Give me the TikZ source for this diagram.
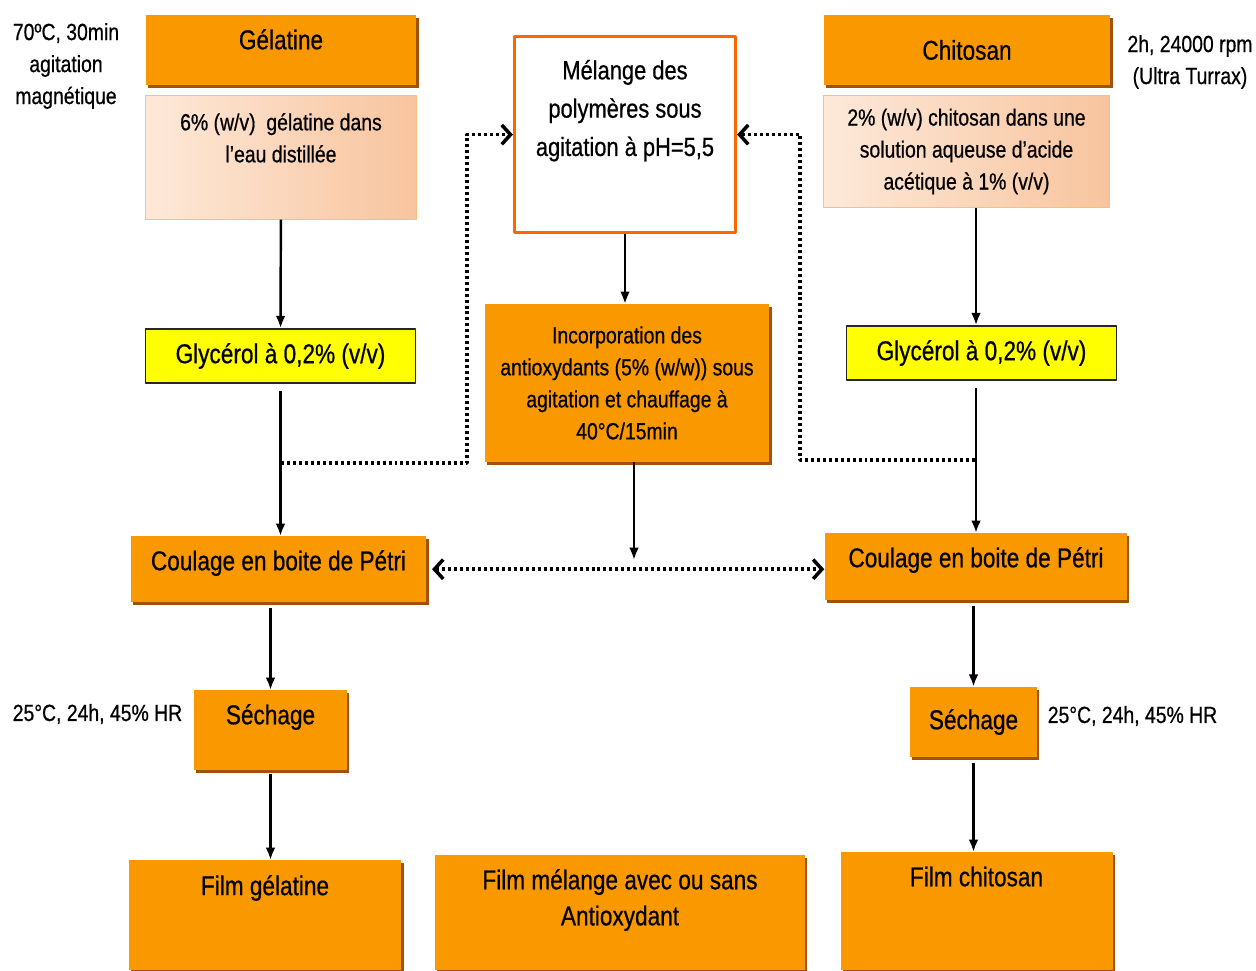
\documentclass[tikz,border=0pt]{standalone}
\usepackage{fontspec}
\setmainfont{Liberation Sans}[FakeStretch=0.83, FakeBold=0.6]
\usetikzlibrary{arrows.meta,shadows}
\definecolor{orangec}{RGB}{250,152,0}
\definecolor{shadowc}{RGB}{160,82,10}
\definecolor{peachL}{RGB}{253,233,217}
\definecolor{peachR}{RGB}{248,196,158}
\definecolor{peachD}{RGB}{250,190,130}
\definecolor{melc}{RGB}{255,102,0}
\definecolor{yellowc}{RGB}{255,255,0}
\newcommand{\bigf}{\fontsize{15.5}{20.5}\selectfont}
\newcommand{\smallf}{\fontsize{13.3}{18.2}\selectfont}
\begin{document}
\begin{tikzpicture}[x=0.02cm, y=-0.02cm, line join=round,
	box/.style={inner sep=0pt, align=center, font=\bigf},
	orangebox/.style={box, fill=orangec, general shadow={fill=shadowc, shadow xshift=1.2pt, shadow yshift=-1.6pt}},
	peachbox/.style={box, font=\smallf, left color=peachL, right color=peachR, draw=peachD, line width=0.6pt},
	yellowbox/.style={box, fill=yellowc, draw=black!85, line width=1pt},
	sidelabel/.style={align=center, font=\smallf, inner sep=0pt},
	arr/.style={-{Latex[length=7pt,width=5.5pt]}, line width=1.4pt},
	dotl/.style={line width=2pt, dash pattern=on 1.7pt off 1.7pt},
	chev/.tip={Straight Barb[length=5pt,width=11pt,line width=2pt]}]
	\useasboundingbox (0,0) rectangle (1256,970);
	\node[sidelabel] (cond1) at (66,66) {70ºC, 30min\\agitation\\magnétique};
	\node[orangebox, anchor=north, minimum width=154.2pt, text height=19.3pt, text depth=20.4pt] (gel) at (281,15) {Gélatine};
	\node[peachbox, anchor=north, minimum width=154.2pt, text height=38pt, text depth=32.3pt] (gelsol) at (281,95) {6\% (w/v)\ \ gélatine dans\\l’eau distillée};
	\node[box, anchor=north, fill=white, draw=melc, line width=1.7pt, minimum width=125.9pt, text height=68pt, text depth=43.7pt, font=\fontsize{15}{21.8}\selectfont] (mel) at (625,35) {Mélange des\\polymères sous\\agitation à pH=5,5};
	\node[orangebox, minimum width=163.3pt, minimum height=39.7pt] (chi) at (967,50) {Chitosan};
	\node[peachbox, minimum width=162.7pt, minimum height=64.1pt] (chisol) at (966.5,151.5) {2\% (w/v) chitosan dans une\\solution aqueuse d’acide\\acétique à 1\% (v/v)};
	\node[sidelabel] (cond2) at (1190,62) {2h, 24000 rpm\\(Ultra Turrax)};
	\node[yellowbox, minimum width=153.6pt, minimum height=30.6pt] (glyg) at (280.5,356) {Glycérol à 0,2\% (v/v)};
	\node[yellowbox, minimum width=153.6pt, minimum height=30.6pt] (glyc) at (981.5,353) {Glycérol à 0,2\% (v/v)};
	\node[orangebox, font=\smallf, minimum width=162.1pt, minimum height=89.6pt] (inc) at (627,383) {Incorporation des\\antioxydants (5\% (w/w)) sous\\agitation et chauffage à\\40°C/15min};
	\node[orangebox, anchor=north, minimum width=168.4pt, text height=19.3pt, text depth=18.1pt] (coug) at (278.5,536) {Coulage en boite de Pétri};
	\node[orangebox, anchor=north, minimum width=172.3pt, text height=19.3pt, text depth=18.7pt] (couc) at (976,533) {Coulage en boite de Pétri};
	\node[orangebox, anchor=north, minimum width=86.7pt, text height=19.3pt, text depth=26.1pt] (secg) at (270.5,690) {Séchage};
	\node[orangebox, minimum width=72pt, minimum height=39.7pt] (secc) at (973.5,722) {Séchage};
	\node[sidelabel] (dry1) at (97.5,714) {25°C, 24h, 45\% HR};
	\node[sidelabel] (dry2) at (1132.5,716) {25°C, 24h, 45\% HR};
	\node[orangebox, anchor=north, minimum width=155.3pt, text height=19.8pt, text depth=42.5pt] (filmg) at (265,860) {Film gélatine};
	\node[orangebox, anchor=north, minimum width=210.9pt, text height=39.8pt, text depth=25.4pt] (filmm) at (620,855) {Film mélange avec ou sans\\Antioxydant};
	\node[orangebox, anchor=north, minimum width=154.8pt, text height=19.3pt, text depth=47.6pt] (filmc) at (976.5,852) {Film chitosan};
	\draw[arr] (gelsol) -- (glyg);
	\draw[arr] (chisol.south -| couc.north) -- (glyc.north -| couc.north);
	\draw[arr] (mel.south) -- (mel.south |- inc.north);
	\draw[arr, shorten <=4pt] (glyg.south) -- (glyg.south |- coug.north);
	\draw[arr, shorten <=4pt] (glyc.south -| couc.north) -- (couc.north);
	\coordinate (incend) at (634,560);
	\draw[arr] (inc.south -| incend) -- (incend);
	\draw[arr, shorten <=3pt] (coug.south -| secg.north) -- (secg.north);
	\draw[arr, shorten <=2pt] (secg.south) -- (secg.south |- filmg.north);
	\draw[arr, shorten <=3pt] (couc.south -| secc.north) -- (secc.north);
	\draw[arr, shorten <=3pt] (secc.south) -- (secc.south |- filmc.north);
	\coordinate (dl) at (281,463);
	\coordinate (dlb) at (467,463);
	\draw[dotl, -chev] (dl) -- (dlb) |- (mel.west);
	\coordinate (dr) at (975,460);
	\coordinate (drb) at (800,460);
	\draw[dotl, -chev] (dr) -- (drb) |- (mel.east);
	\draw[dotl, chev-chev, shorten <=3pt] (coug.east) -- (coug.east -| couc.west);
\end{tikzpicture}
\end{document}
